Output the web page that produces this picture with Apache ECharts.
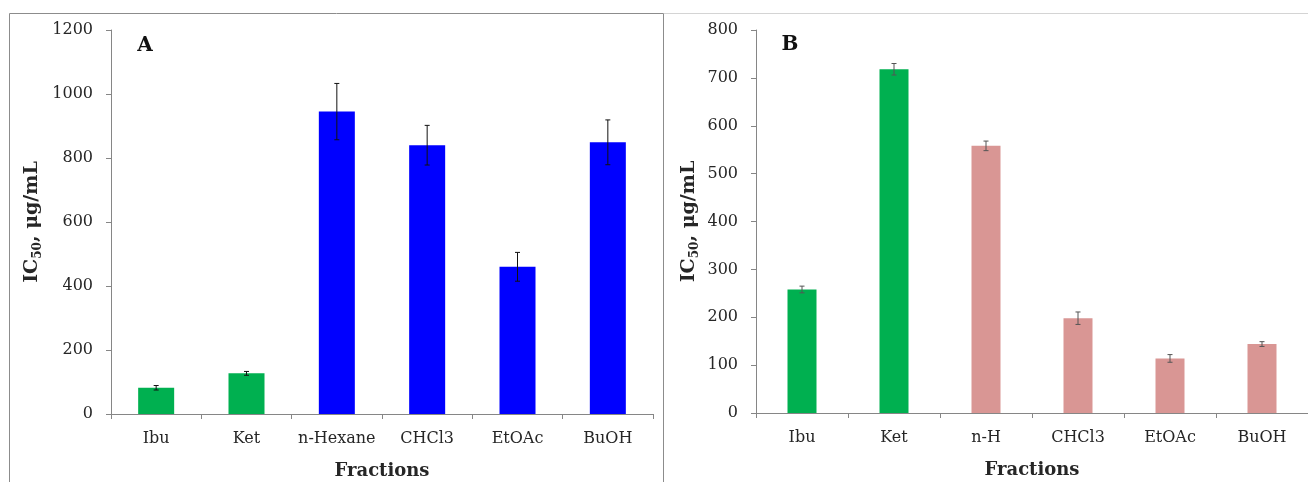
<!DOCTYPE html>
<html>
<head>
<meta charset="utf-8">
<script src="https://cdn.jsdelivr.net/npm/echarts@6/dist/echarts.min.js"></script>
<style>
html,body{margin:0;padding:0;background:#fff;}
#chart{width:1308px;height:482px;}
</style>
</head>
<body>
<div id="chart"></div>
<script>
// ---- Data ----
const categoriesA = ['Ibu', 'Ket', 'n-Hexane', 'CHCl3', 'EtOAc', 'BuOH'];
const valuesA = [82, 127, 945, 840, 460, 849];
const errorsA = [7, 6, 88, 62, 45, 70];
const categoriesB = ['Ibu', 'Ket', 'n-H', 'CHCl3', 'EtOAc', 'BuOH'];
const valuesB = [258, 718, 558, 198, 114, 144];
const errorsB = [7, 12, 10, 13, 8, 5];
const isReference = [true, true, false, false, false, false];
const yAxisA = { min: 0, max: 1200, interval: 200 };
const yAxisB = { min: 0, max: 800, interval: 100 };
const panelLabels = ['A', 'B'];
const xTitle = 'Fractions';

// ---- Styles ----
const FONT = 'DejaVu Serif';
const TXT = '#262626';
const AXIS = '#868686';
const GREEN = '#00B050';
const BLUE = '#0000FF';
const PINK = '#D99694';

function barData(vals, fracColor) {
  return vals.map((v, i) => ({ value: v, itemStyle: { color: isReference[i] ? GREEN : fracColor } }));
}
function errData(vals, errs) {
  return vals.map((v, i) => [i, v, errs[i]]);
}
function errRender(color, cap) {
  return function (params, api) {
    const i = api.value(0), v = api.value(1), e = api.value(2);
    const top = api.coord([i, v + e]);
    const bot = api.coord([i, v - e]);
    const st = { stroke: color, lineWidth: 1 };
    return {
      type: 'group',
      children: [
        { type: 'line', shape: { x1: top[0], y1: top[1], x2: bot[0], y2: bot[1] }, style: st },
        { type: 'line', shape: { x1: top[0] - cap, y1: top[1], x2: top[0] + cap, y2: top[1] }, style: st },
        { type: 'line', shape: { x1: bot[0] - cap, y1: bot[1], x2: bot[0] + cap, y2: bot[1] }, style: st }
      ]
    };
  };
}
function xAxisCfg(cats, idx) {
  return {
    type: 'category', gridIndex: idx, data: cats,
    axisLine: { lineStyle: { color: AXIS, width: 1 } },
    axisTick: { show: true, length: 5, lineStyle: { color: AXIS } },
    axisLabel: { color: TXT, fontFamily: FONT, fontSize: 16, margin: 17, interval: 0 },
    name: xTitle, nameLocation: 'middle', nameGap: 48,
    nameTextStyle: { color: TXT, fontFamily: FONT, fontSize: 18, fontWeight: 'bold' }
  };
}
function yAxisCfg(cfg, idx, gap) {
  return {
    type: 'value', gridIndex: idx, min: cfg.min, max: cfg.max, interval: cfg.interval,
    splitLine: { show: false },
    axisLine: { show: true, lineStyle: { color: AXIS, width: 1 } },
    axisTick: { show: true, length: 5, lineStyle: { color: AXIS } },
    axisLabel: { color: TXT, fontFamily: FONT, fontSize: 16, margin: 18, formatter: (v) => String(v) },
    name: '{b|IC}{s|50}{b|, μg/mL}', nameLocation: 'middle', nameRotate: 90, nameGap: gap,
    nameTextStyle: {
      rich: {
        b: { color: TXT, fontFamily: FONT, fontSize: 19, fontWeight: 'bold', lineHeight: 24 },
        s: { color: TXT, fontFamily: FONT, fontSize: 12, fontWeight: 'bold', verticalAlign: 'bottom' }
      }
    }
  };
}

const chart = echarts.init(document.getElementById('chart'), null, { renderer: 'canvas' });
chart.setOption({
  animation: false,
  backgroundColor: '#fff',
  grid: [
    { left: 111, top: 30, width: 542, bottom: 68, containLabel: false, outerBoundsMode: 'none' },
    { left: 756, top: 30, right: 0, bottom: 69, containLabel: false, outerBoundsMode: 'none' }
  ],
  xAxis: [xAxisCfg(categoriesA, 0), xAxisCfg(categoriesB, 1)],
  yAxis: [yAxisCfg(yAxisA, 0, 67), yAxisCfg(yAxisB, 1, 55)],
  series: [
    { type: 'bar', xAxisIndex: 0, yAxisIndex: 0, barWidth: 36, data: barData(valuesA, BLUE) },
    { type: 'custom', xAxisIndex: 0, yAxisIndex: 0, renderItem: errRender('#111', 2.5), data: errData(valuesA, errorsA), z: 5 },
    { type: 'bar', xAxisIndex: 1, yAxisIndex: 1, barWidth: 29, data: barData(valuesB, PINK) },
    { type: 'custom', xAxisIndex: 1, yAxisIndex: 1, renderItem: errRender('#555', 2.5), data: errData(valuesB, errorsB), z: 5 }
  ],
  graphic: [
    { type: 'rect', shape: { x: 9.5, y: 13.5, width: 654, height: 480 }, style: { fill: 'none', stroke: '#8c8c8c', lineWidth: 1 }, silent: true },
    { type: 'line', shape: { x1: 664, y1: 13.5, x2: 1308, y2: 13.5 }, style: { stroke: '#d4d4d4', lineWidth: 1 }, silent: true },
    { type: 'text', x: 145, y: 46, style: { text: panelLabels[0], fill: '#111', font: 'bold 20px "DejaVu Serif"', align: 'center', verticalAlign: 'middle' } },
    { type: 'text', x: 790, y: 45, style: { text: panelLabels[1], fill: '#111', font: 'bold 20px "DejaVu Serif"', align: 'center', verticalAlign: 'middle' } }
  ]
});
</script>
</body>
</html>
